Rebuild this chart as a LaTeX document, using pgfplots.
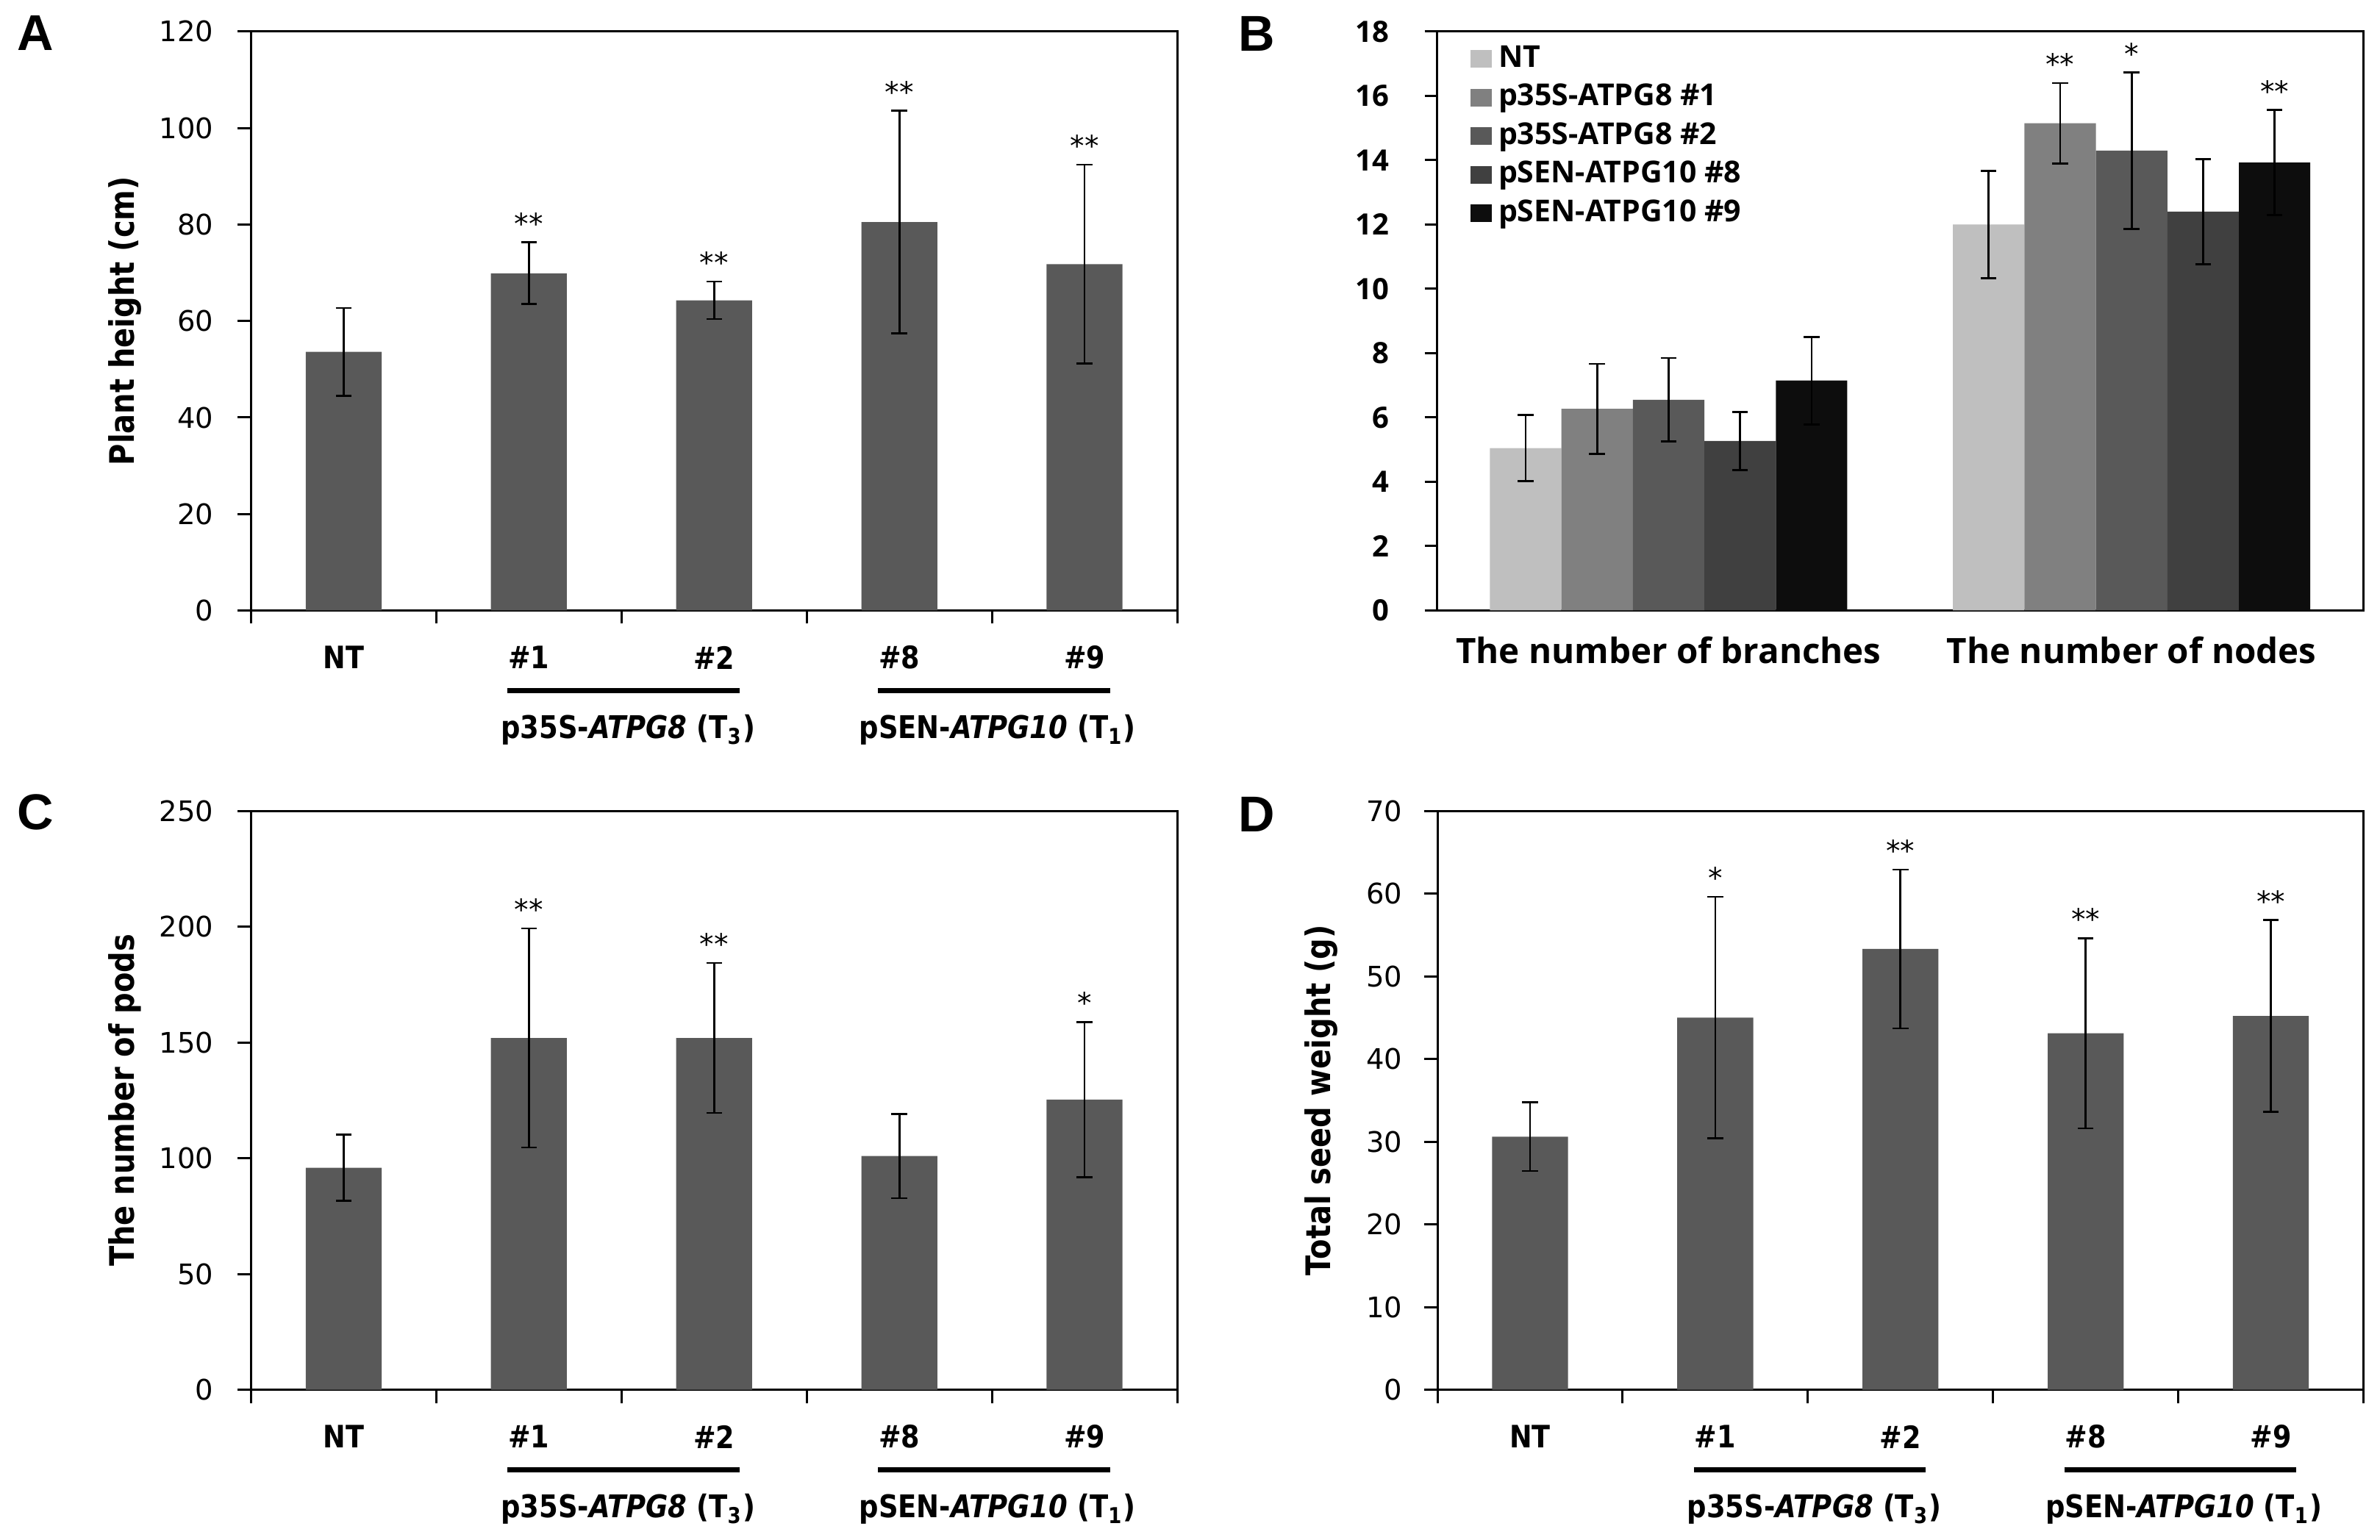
\documentclass[border=0pt]{standalone}
\usepackage{pgfplots}
\pgfplotsset{compat=1.18}
\usepackage{pgfplotstable}
\usepackage{fontspec}
\setmainfont{DejaVu Sans}
\newfontfamily\narrowfont[FakeStretch=0.87]{DejaVu Sans}
\newfontfamily\opensans{Open Sans}
\newfontfamily\letterfont{Liberation Sans}

\definecolor{barA}{HTML}{595959}
\definecolor{gNT}{HTML}{BFBFBF}
\definecolor{gOne}{HTML}{808080}
\definecolor{gTwo}{HTML}{595959}
\definecolor{gEight}{HTML}{404040}
\definecolor{gNine}{HTML}{0D0D0D}

% mean and SD per line
\pgfplotstableread{
x y e
0 53.6 9.1
1 69.9 6.4
2 64.3 3.9
3 80.5 23.1
4 71.8 20.6
}\tabHeight
\pgfplotstableread{
x y e
0 95.8 14.3
1 151.9 47.3
2 151.9 32.4
3 100.9 18.2
4 125.3 33.5
}\tabPods
\pgfplotstableread{
x y e
0 30.6 4.15
1 45.0 14.6
2 53.3 9.6
3 43.1 11.5
4 45.2 11.6
}\tabSeed
% branches (x=0) and nodes (x=1)
\pgfplotstableread{
x nt ntE one oneE two twoE eight eightE nine nineE
0 5.05 1.03 6.27 1.40 6.55 1.30 5.27 0.90 7.15 1.36
1 12.00 1.67 15.15 1.25 14.30 2.43 12.40 1.64 13.93 1.63
}\tabBranch

\newcommand\tickfont{\fontsize{7.7}{9}\selectfont}
\newcommand\catfont{\narrowfont\bfseries\fontsize{8.4}{10}\selectfont}
\newcommand\grpfont{\narrowfont\bfseries\fontsize{8.5}{10}\selectfont}
\newcommand\starfont{\fontsize{7.8}{9}\selectfont}

\pgfplotsset{
  panel/.style={
    scale only axis, width=251.9pt, height=157.5pt,
    ymin=0, clip=false,
    axis line style={line width=0.6pt},
    tick style={black, line width=0.6pt},
    tick align=outside, major tick length=3.6pt,
    ytick pos=left, xtick pos=bottom,
    /pgf/number format/assume math mode=true,
    every axis y label/.style={at={(axis description cs:-0.136,0.5)}, rotate=90, anchor=center,
      font=\narrowfont\bfseries\fontsize{9.2}{11}\selectfont},
  },
  cat/.style={
    panel, ybar,
    xmin=-0.5, xmax=4.5,
    xtick={0,...,4}, xticklabels={NT,\#1,\#2,\#8,\#9},
    xtick style={draw=none},
    xticklabel style={font=\catfont, anchor=center, yshift=-9.2pt},
    extra x ticks={-0.5,0.5,1.5,2.5,3.5,4.5},
    extra x tick labels={},
    extra x tick style={xtick style={draw=black}},
    yticklabel style={font=\tickfont, xshift=-3.1pt},
    bar width=0.41,
  },
  ebar/.style={
    error bars/.cd, y dir=both, y explicit,
    error bar style={black, line width=0.55pt},
    error mark options={rotate=90, black, line width=0.55pt, mark size=2.15pt},
  },
}

\newcommand\sig[3]{\node[font=\starfont, anchor=base, inner sep=0pt, yshift=2.3pt] at (axis cs:#1,#2) {#3};}
\newcommand\groups{%
  \draw[line width=1.3pt] ([yshift=-21.8pt]axis cs:0.885,0) -- ([yshift=-21.8pt]axis cs:2.137,0);
  \draw[line width=1.3pt] ([yshift=-21.8pt]axis cs:2.885,0) -- ([yshift=-21.8pt]axis cs:4.137,0);
  \node[font=\grpfont, inner sep=0pt] at ([yshift=-32.4pt]axis cs:1.535,0) {p35S-\textit{ATPG8}\ (T\textsubscript{3})};
  \node[font=\grpfont, inner sep=0pt] at ([yshift=-32.4pt]axis cs:3.53,0) {pSEN-\textit{ATPG10}\ (T\textsubscript{1})};
}

\begin{document}
\begin{tikzpicture}
\useasboundingbox (0,0) rectangle (647.4pt,-419pt);

% panel letters
\node[font=\letterfont\bfseries\fontsize{13.7}{15}\selectfont, anchor=base west, inner sep=0pt] at (4.4pt,-13.8pt) {A};
\node[font=\letterfont\bfseries\fontsize{13.7}{15}\selectfont, anchor=base west, inner sep=0pt] at (336.6pt,-14pt) {B};
\node[font=\letterfont\bfseries\fontsize{13.7}{15}\selectfont, anchor=base west, inner sep=0pt] at (4.4pt,-225.8pt) {C};
\node[font=\letterfont\bfseries\fontsize{13.7}{15}\selectfont, anchor=base west, inner sep=0pt] at (336.6pt,-226.4pt) {D};

% A: plant height
\begin{axis}[cat, at={(68.3pt,-166.1pt)}, anchor=south west,
  ymax=120, ytick={0,20,...,120}, ylabel={Plant height (cm)}]
\addplot[fill=barA, draw=none, ebar] table[x=x, y=y, y error=e] {\tabHeight};
\sig{1}{76.3}{**}
\sig{2}{68.2}{**}
\sig{3}{103.6}{**}
\sig{4}{92.4}{**}
\groups
\end{axis}

% B: branches and nodes
\begin{axis}[panel, ybar, at={(390.9pt,-166.1pt)}, anchor=south west,
  xmin=-0.5, xmax=1.5, ymax=18, ytick={0,2,...,18},
  major tick length=3.4pt,
  xtick={0,1}, xticklabels={The number of branches, The number of nodes},
  xtick style={draw=none},
  xticklabel style={font=\opensans\bfseries\fontsize{9.5}{11}\selectfont, anchor=center, yshift=-7.4pt},
  yticklabel style={font=\opensans\bfseries\fontsize{8}{9}\selectfont, xshift=-6.2pt},
  bar width=0.1544,
  legend style={at={(rel axis cs:0,1)}, anchor=north west, xshift=9.1pt, yshift=-3.65pt,
    draw=none, fill=none, inner sep=0pt, outer sep=0pt,
    font=\opensans\bfseries\fontsize{8.2}{10}\selectfont, row sep=2.8pt,
    nodes={inner sep=0pt, text height=6pt, text depth=1.7pt},
    /tikz/every odd column/.append style={column sep=1.8pt}},
  legend cell align=left,
  legend image code/.code={\fill[#1, draw=none] (0pt,-2.4pt) rectangle (5.8pt,2.4pt);},
]
\addplot[fill=gNT, draw=none, bar shift=-0.3088, ebar] table[x=x, y=nt, y error=ntE] {\tabBranch};
\addplot[fill=gOne, draw=none, bar shift=-0.1544, ebar] table[x=x, y=one, y error=oneE] {\tabBranch};
\addplot[fill=gTwo, draw=none, bar shift=0, ebar] table[x=x, y=two, y error=twoE] {\tabBranch};
\addplot[fill=gEight, draw=none, bar shift=0.1544, ebar] table[x=x, y=eight, y error=eightE] {\tabBranch};
\addplot[fill=gNine, draw=none, bar shift=0.3088, ebar] table[x=x, y=nine, y error=nineE] {\tabBranch};
\legend{NT, p35S-ATPG8 \#1, p35S-ATPG8 \#2, pSEN-ATPG10 \#8, pSEN-ATPG10 \#9}
\sig{0.8456}{16.4}{**}
\sig{1}{16.73}{*}
\sig{1.3088}{15.56}{**}
\end{axis}

% C: pods
\begin{axis}[cat, at={(68.3pt,-378.1pt)}, anchor=south west,
  ymax=250, ytick={0,50,...,250}, ylabel={The number of pods}]
\addplot[fill=barA, draw=none, ebar] table[x=x, y=y, y error=e] {\tabPods};
\sig{1}{199.2}{**}
\sig{2}{184.3}{**}
\sig{4}{158.8}{*}
\groups
\end{axis}

% D: seed weight
\begin{axis}[cat, at={(391.0pt,-378.1pt)}, anchor=south west,
  ymax=70, ytick={0,10,...,70}, ylabel={Total seed weight (g)},
  ylabel style={at={(axis description cs:-0.1254,0.5)}},
  yticklabel style={xshift=0.7pt}]
\addplot[fill=barA, draw=none, ebar] table[x=x, y=y, y error=e] {\tabSeed};
\sig{1}{59.6}{*}
\sig{2}{62.9}{**}
\sig{3}{54.6}{**}
\sig{4}{56.8}{**}
\groups
\end{axis}
\end{tikzpicture}
\end{document}
